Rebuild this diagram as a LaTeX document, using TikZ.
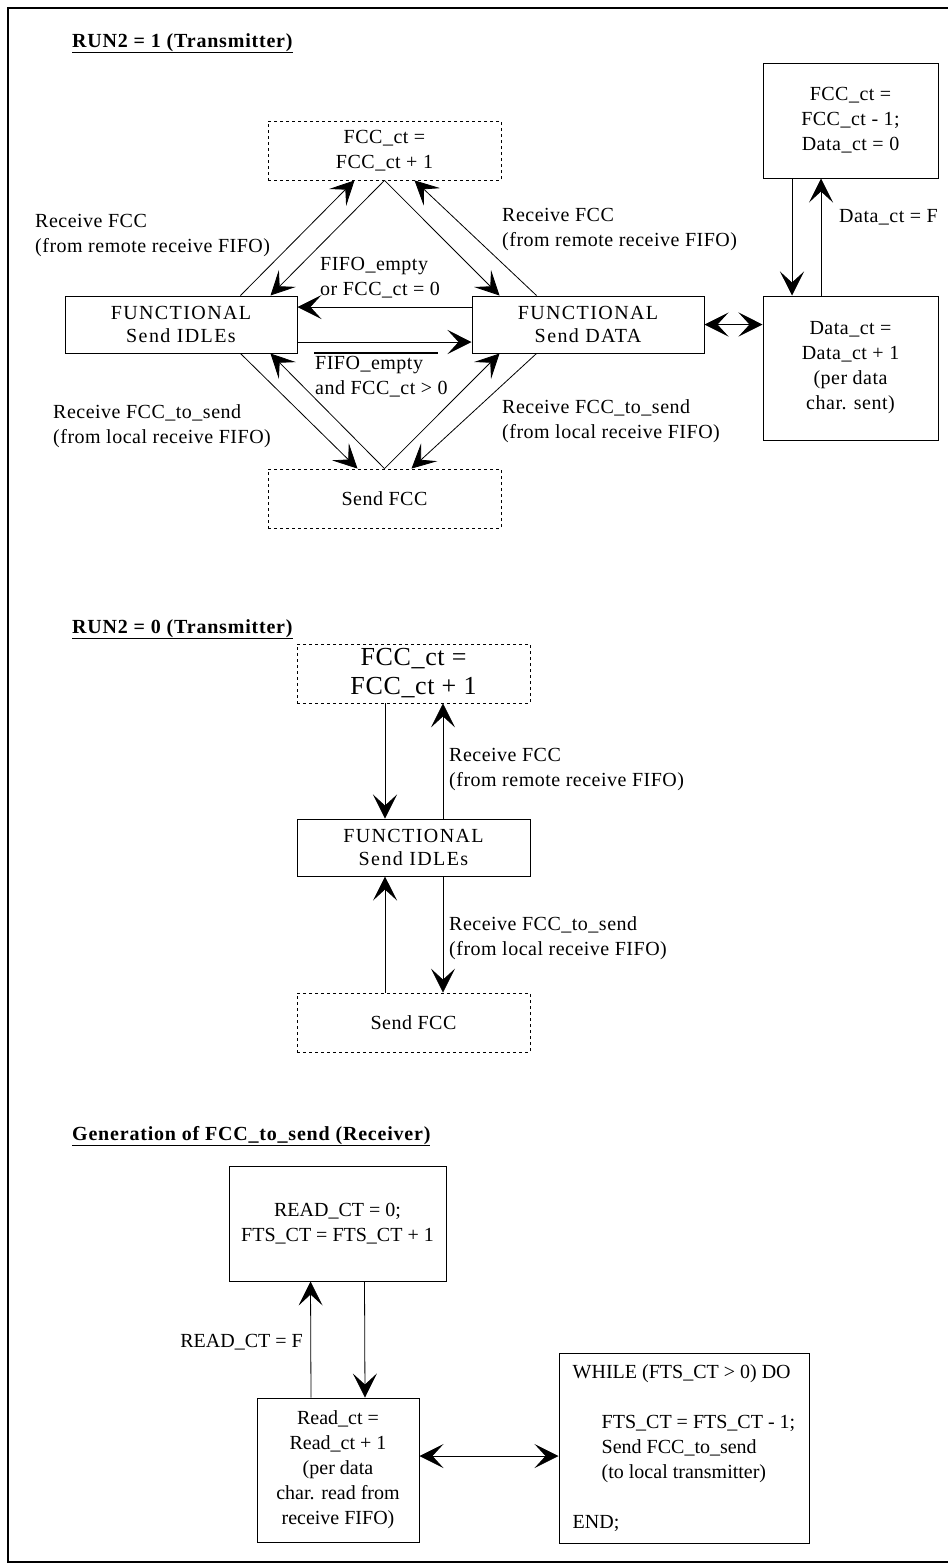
\documentclass[tikz,border=0pt]{standalone}
\usepackage{fontspec}
\setmainfont{Liberation Serif}
\newfontfamily\lblfont[LetterSpace=2.5]{Liberation Serif}
\newfontfamily\fnfont[LetterSpace=7]{Liberation Serif}
\newfontfamily\ttlfont[LetterSpace=4]{Liberation Serif}
\usetikzlibrary{arrows.meta,calc}

\tikzset{
    hd/.tip={Stealth[length=24pt,width=24pt,inset=11pt]},
    lbl/.style={font=\lblfont\fontsize{20}{25}\selectfont, inner sep=0pt, align=left},
    ttl/.style={font=\ttlfont\bfseries\fontsize{20}{25}\selectfont, inner sep=0pt, anchor=base west},
    sbox/.style={draw, line width=1pt, inner sep=0pt, align=center, font=\lblfont\fontsize{20}{25}\selectfont},
    fbox/.style={sbox, font=\fnfont\fontsize{20}{23}\selectfont},
    dbox/.style={sbox, line width=0.8pt, dash pattern=on 3pt off 3pt},
    rbox/.style={sbox, font=\fontsize{20}{25}\selectfont},
    conn/.style={line width=0.8pt, -hd},
    dconn/.style={line width=0.8pt, hd-hd}
}

\begin{document}
\begin{tikzpicture}[
    x=1pt, y=-1pt
 ]
\def\bw{232}
\def\bh{57}
\def\dh{59}
\useasboundingbox (0,0) rectangle (948,1564);

% frame
\draw[line width=2pt] (948,8) -- (8,8) -- (8,1562) -- (948,1562);

% RUN2 = 1
\draw (72,47) node[ttl] (tA) {\underline{RUN2 = 1 (Transmitter)}};
\draw (384.5,150.5) node[dbox, minimum width=233pt, minimum height=\dh pt] (incA) {FCC\_ct =\\FCC\_ct + 1};
\draw (181,324.5) node[fbox, minimum width=\bw pt, minimum height=\bh pt] (idleA) {FUNCTIONAL\\Send IDLEs};
\draw (588,324.5) node[fbox, minimum width=\bw pt, minimum height=\bh pt] (dataA) {FUNCTIONAL\\Send DATA};
\draw (384.5,498.5) node[dbox, minimum width=233pt, minimum height=\dh pt] (fccA) {Send FCC};
\draw (850.5,120.5) node[sbox, minimum width=175pt, minimum height=115pt] (decA) {FCC\_ct =\\FCC\_ct - 1;\\Data\_ct = 0};
\draw (850.5,368) node[sbox, minimum width=175pt, minimum height=144pt] (cntA) {Data\_ct =\\Data\_ct + 1\\(per data\\char. sent)};

\draw (35,214) node[lbl, anchor=north west] (rfA) {Receive FCC\\(from remote receive FIFO)};
\draw (502,208) node[lbl, anchor=north west] (rfB) {Receive FCC\\(from remote receive FIFO)};
\draw (53,404) node[lbl, anchor=north west] (rsA) {Receive FCC\_to\_send\\(from local receive FIFO)};
\draw (502,399) node[lbl, anchor=north west] (rsB) {Receive FCC\_to\_send\\(from local receive FIFO)};
\draw (320,257) node[lbl, anchor=north west] (emA) {FIFO\_empty\\or FCC\_ct = 0};
\draw (315,356) node[lbl, anchor=north west] (emB) {FIFO\_empty\\and FCC\_ct > 0};
\draw (839,222) node[lbl, anchor=base west] (dfA) {Data\_ct = F};
\draw[line width=1.8pt] ([xshift=-1pt,yshift=3pt]emB.north west) -- ++(124,0);

\draw[conn] ([xshift=-57pt]idleA.north east) -- ([xshift=-30pt]incA.south);
\draw[conn] (incA.south) -- ([xshift=-27pt]idleA.north east);
\draw[conn] (incA.south) -- ([xshift=28pt]dataA.north west);
\draw[conn] ([xshift=65pt]dataA.north west) -- ([xshift=30pt]incA.south);
\draw[conn] ([xshift=-57pt]idleA.south east) -- ([xshift=-27pt]fccA.north);
\draw[conn] (fccA.north) -- ([xshift=-27pt]idleA.south east);
\draw[conn] ([xshift=65pt]dataA.south west) -- ([xshift=27pt]fccA.north);
\draw[conn] (fccA.north) -- ([xshift=28pt]dataA.south west);
\draw[conn] ([yshift=17.5pt]dataA.west) -- ([yshift=17.5pt]idleA.east);
\draw[conn] ([yshift=-17.5pt]idleA.east) -- ([yshift=-17.5pt]dataA.west);
\draw[dconn] (dataA.east) -- (dataA.east -| cntA.west);
\draw[conn] ([xshift=-58.5pt]decA.south) -- ([xshift=-58.5pt]cntA.north);
\draw[conn] ([xshift=-29.5pt]cntA.north) -- ([xshift=-29.5pt]decA.south);

% RUN2 = 0
\draw (72,633) node[ttl] (tB) {\underline{RUN2 = 0 (Transmitter)}};
\draw (413.5,673.5) node[dbox, minimum width=233pt, minimum height=\dh pt, font=\lblfont\fontsize{26}{29}\selectfont] (incB) {FCC\_ct =\\FCC\_ct + 1};
\draw (413.5,847.5) node[fbox, minimum width=233pt, minimum height=\bh pt] (idleB) {FUNCTIONAL\\Send IDLEs};
\draw (413.5,1022.5) node[dbox, minimum width=233pt, minimum height=\dh pt] (fccB) {Send FCC};
\draw (449,748) node[lbl, anchor=north west] (rfC) {Receive FCC\\(from remote receive FIFO)};
\draw (449,916) node[lbl, anchor=north west] (rsC) {Receive FCC\_to\_send\\(from local receive FIFO)};

\draw[conn] ([xshift=-28.5pt]incB.south) -- ([xshift=-28.5pt]idleB.north);
\draw[conn] ([xshift=29.5pt]idleB.north) -- ([xshift=29.5pt]incB.south);
\draw[conn] ([xshift=-28.5pt]fccB.north) -- ([xshift=-28.5pt]idleB.south);
\draw[conn] ([xshift=29.5pt]idleB.south) -- ([xshift=29.5pt]fccB.north);

% Receiver
\draw (72,1140) node[ttl] (tC) {\underline{Generation of FCC\_to\_send (Receiver)}};
\draw (337.5,1223.5) node[rbox, minimum width=217pt, minimum height=115pt] (rstC) {READ\_CT = 0;\\FTS\_CT = FTS\_CT + 1};
\draw (338,1470) node[rbox, minimum width=162pt, minimum height=144pt] (cntC) {Read\_ct =\\Read\_ct + 1\\(per data\\char. read from\\receive FIFO)};
\draw (684,1448) node[rbox, align=left, minimum width=250pt, minimum height=190pt] (whC) {WHILE (FTS\_CT > 0) DO\\[25pt]
    \hspace*{29pt}FTS\_CT = FTS\_CT - 1;\\
    \hspace*{29pt}Send FCC\_to\_send\\
    \hspace*{29pt}(to local transmitter)\\[25pt]
    END;};
\draw (303,1347) node[lbl, anchor=base east, font=\fontsize{20}{25}\selectfont] (rfD) {READ\_CT = F};

\draw[conn] ([xshift=-27pt]cntC.north) -- ([xshift=-27pt]rstC.south);
\draw[conn] ([xshift=27pt]rstC.south) -- ([xshift=27pt]cntC.north);
\draw[dconn] ([yshift=14pt]cntC.east) -- ([yshift=-8pt]whC.west);

\end{tikzpicture}
\end{document}
